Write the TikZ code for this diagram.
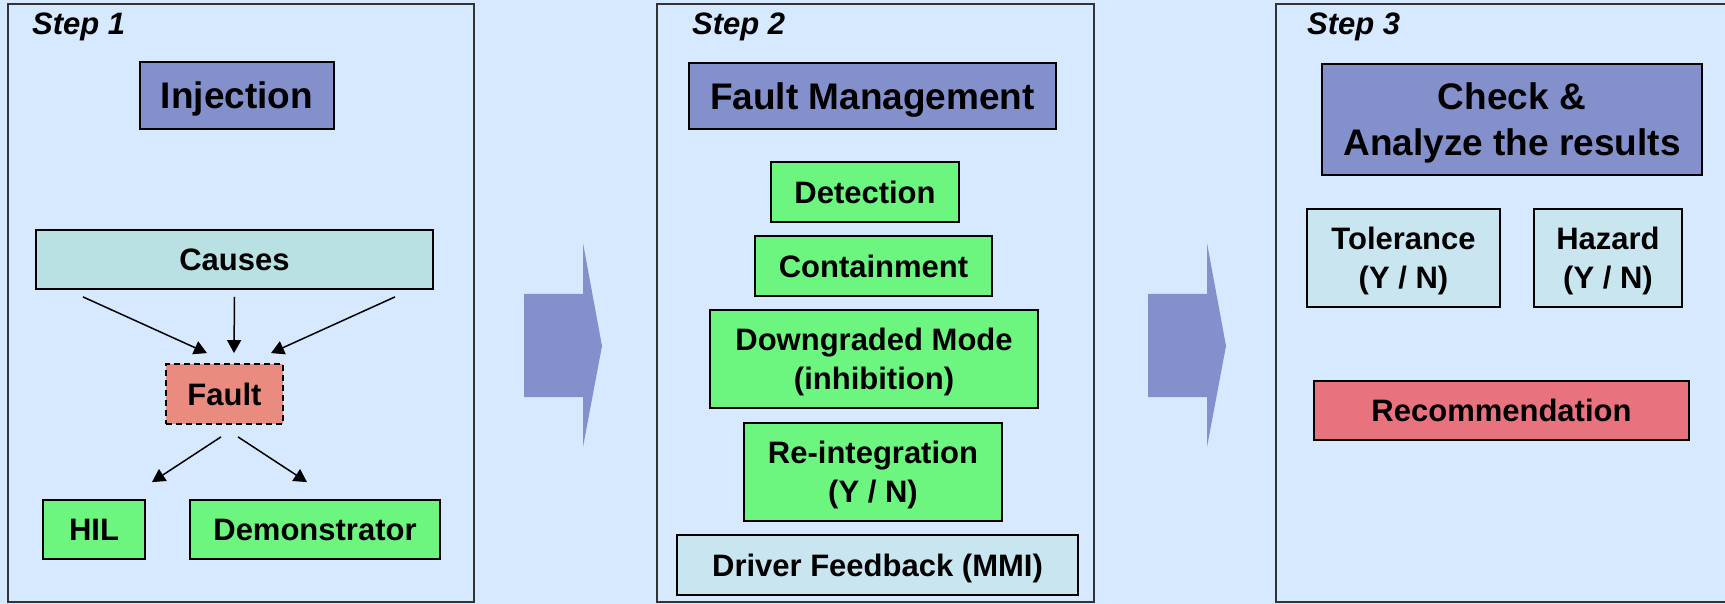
\documentclass[tikz,border=0pt]{standalone}
\usepackage{fontspec}
\setmainfont{Liberation Sans}
\usepackage{tikz}
\usetikzlibrary{positioning, arrows.meta, calc}
\usepackage{xcolor}
\definecolor{bgblue}{HTML}{D6E9FE}
\definecolor{hdrblue}{HTML}{8490CC}
\definecolor{boxgreen}{HTML}{6CF680}
\definecolor{causeteal}{HTML}{B9E0E2}
\definecolor{paleblue}{HTML}{C9E5F0}
\definecolor{faultred}{HTML}{E98C7F}
\definecolor{recred}{HTML}{E8737E}

\begin{document}
\begin{tikzpicture}[
      x=1pt, y=-1pt,
      every node/.style={font=\fontsize{31}{39.5}\selectfont\bfseries},
      blk/.style={draw=black, line width=1.8pt, inner sep=0pt, align=center,
                  text depth=0pt},
      hdr/.style={blk, fill=hdrblue, font=\fontsize{37}{46}\selectfont\bfseries},
      gbox/.style={blk, fill=boxgreen},
      pbox/.style={blk, fill=paleblue},
      steplbl/.style={anchor=base west, inner sep=0pt,
                      font=\fontsize{31}{38}\selectfont\bfseries\itshape},
      panel/.style={draw=black!80, line width=1.5pt, fill=bgblue},
      arr/.style={line width=1.5pt, -{Triangle[length=13pt, width=14pt]}},
    ]
    \useasboundingbox (0,0) rectangle (1725,604);
    \clip (0,0) rectangle (1725,604);
    \fill[bgblue] (0,0) rectangle (1725,604);

    \draw[panel] (8,4) rectangle (474,602);
    \draw[panel] (657,4) rectangle (1094,602);
    \draw[panel] (1276,4) rectangle (1745,602);

    \foreach \x in {524, 1148}
      \fill[hdrblue] (\x,294) -- ++(59,0) -- ++(0,-51) -- ++(19,103)
        -- ++(-19,101) -- ++(0,-50) -- ++(-59,0) -- cycle;

    % step 1
    \node[steplbl] (s1) at (32,35) {Step 1};
    \node[hdr, minimum width=194pt, minimum height=67pt] (inj) at (237,95.5) {Injection};
    \node[blk, fill=causeteal, minimum width=397pt, minimum height=59pt] (causes) at (234.5,259.5) {Causes};
    \node[blk, fill=faultred, dash pattern=on 6pt off 4pt, minimum width=117pt,
          minimum height=60pt] (fault) at (224.5,394) {Fault};
    \node[gbox, minimum width=102pt, minimum height=59pt] (hil) at (94,529.5) {HIL};
    \node[gbox, minimum width=250pt, minimum height=59pt] (demo) at (315,529.5) {Demonstrator};

    \draw[arr] ([xshift=-151.5pt, yshift=-7pt]causes.south) -- ([xshift=-17.5pt, yshift=10pt]fault.north);
    \draw[arr] ([yshift=-7pt]causes.south) -- ([xshift=9.5pt, yshift=10pt]fault.north);
    \draw[arr] ([xshift=160.5pt, yshift=-7pt]causes.south) -- ([xshift=46.5pt, yshift=10pt]fault.north);
    \draw[arr] ([xshift=-3.5pt, yshift=-12pt]fault.south) -- ([xshift=58pt, yshift=17pt]hil.north);
    \draw[arr] ([xshift=13.5pt, yshift=-12pt]fault.south) -- ([xshift=-8pt, yshift=17pt]demo.north);

    % step 2
    \node[steplbl] (s2) at (692,35) {Step 2};
    \node[hdr, minimum width=367pt, minimum height=66pt] (fm) at (872.5,96) {Fault Management};
    \node[gbox, minimum width=188pt, minimum height=60pt] (det) at (865,192) {Detection};
    \node[gbox, minimum width=237pt, minimum height=60pt] (cont) at (873.5,266) {Containment};
    \node[gbox, minimum width=328pt, minimum height=98pt] (down) at (874,359)
      {Downgraded Mode\\(inhibition)};
    \node[gbox, minimum width=258pt, minimum height=98pt] (reint) at (873,472)
      {Re-integration\\(Y / N)};
    \node[pbox, minimum width=401pt, minimum height=60pt] (driver) at (877.5,565)
      {Driver Feedback (MMI)};

    % step 3
    \node[steplbl] (s3) at (1307,35) {Step 3};
    \node[hdr, minimum width=380pt, minimum height=111pt] (check) at (1512,119.5)
      {Check \&\\Analyze the results};
    \node[pbox, minimum width=193pt, minimum height=98pt] (tol) at (1403.5,258)
      {Tolerance\\(Y / N)};
    \node[pbox, minimum width=148pt, minimum height=98pt] (haz) at (1608,258)
      {Hazard\\(Y / N)};
    \node[blk, fill=recred, minimum width=375pt, minimum height=59pt] (rec) at (1501.5,410.5)
      {Recommendation};
  \end{tikzpicture}
\end{document}
